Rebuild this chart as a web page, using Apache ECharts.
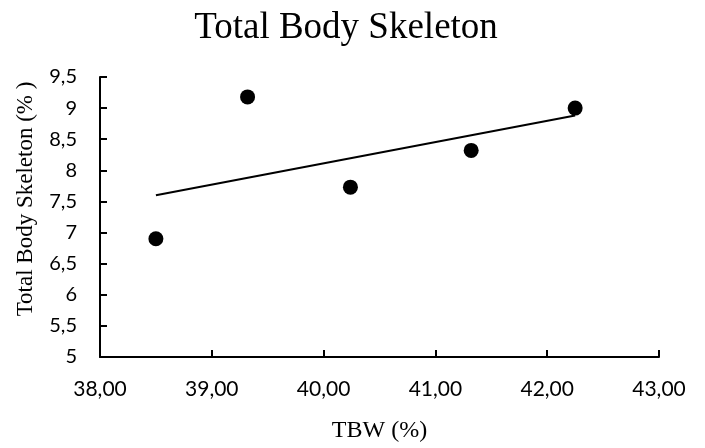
<!DOCTYPE html>
<html>
<head>
<meta charset="utf-8">
<script src="https://cdn.jsdelivr.net/npm/echarts@6/dist/echarts.min.js"></script>
<style>
  html, body { margin: 0; padding: 0; background: #fff; }
  #chart { width: 705px; height: 448px; }
</style>
</head>
<body>
<div id="chart"></div>
<script>
// TBW (%) against total body skeleton (%)
const tbw = [38.50, 39.32, 40.24, 41.32, 42.25];
const skeleton = [6.90, 9.18, 7.73, 8.32, 9.00];

// Linear trendline endpoints
const trendX = [38.50, 42.25];
const trendY = [7.60, 8.88];

const xTicks = { min: 38, max: 43, step: 1 };
const yTicks = { min: 5, max: 9.5, step: 0.5 };

const points = tbw.map((x, i) => [x, skeleton[i]]);
const trend = trendX.map((x, i) => [x, trendY[i]]);

const serif = '"Liberation Serif", "Times New Roman", serif';
const sans = 'Lato, "Open Sans", sans-serif';

const chart = echarts.init(document.getElementById('chart'));
chart.setOption({
  animation: false,
  backgroundColor: '#ffffff',
  title: {
    text: 'Total Body Skeleton',
    left: 341,
    textAlign: 'center',
    top: 5,
    textStyle: { fontFamily: serif, fontSize: 37, fontWeight: 'normal', color: '#000' }
  },
  grid: { left: 100, right: 46, top: 77, bottom: 88 },
  xAxis: {
    type: 'value',
    min: xTicks.min, max: xTicks.max, interval: xTicks.step,
    name: 'TBW (%)',
    nameLocation: 'middle',
    nameGap: 62,
    nameTextStyle: { fontFamily: serif, fontSize: 24, color: '#000' },
    axisLine: { lineStyle: { color: '#000', width: 2 } },
    axisTick: { inside: true, length: 7, lineStyle: { color: '#000', width: 2 } },
    axisLabel: {
      fontFamily: sans, fontSize: 21, color: '#000', margin: 22,
      formatter: v => v.toFixed(2).replace('.', ',')
    },
    splitLine: { show: false }
  },
  yAxis: {
    type: 'value',
    min: yTicks.min, max: yTicks.max, interval: yTicks.step,
    name: 'Total Body Skeleton (% )',
    nameLocation: 'middle',
    nameGap: 63,
    nameTextStyle: { fontFamily: serif, fontSize: 23, color: '#000', padding: [0, 0, 0, 36] },
    axisLine: { show: true, lineStyle: { color: '#000', width: 2 } },
    axisTick: { show: true, inside: true, length: 7, lineStyle: { color: '#000', width: 2 } },
    axisLabel: {
      fontFamily: sans, fontSize: 20, color: '#000', margin: 23,
      formatter: v => String(v).replace('.', ',')
    },
    splitLine: { show: false }
  },
  series: [
    {
      type: 'line',
      data: trend,
      symbol: 'none',
      lineStyle: { color: '#000', width: 2 },
      z: 2
    },
    {
      type: 'scatter',
      data: points,
      symbol: 'circle',
      symbolSize: 15,
      itemStyle: { color: '#000', opacity: 1 },
      z: 3
    }
  ]
});
</script>
</body>
</html>
